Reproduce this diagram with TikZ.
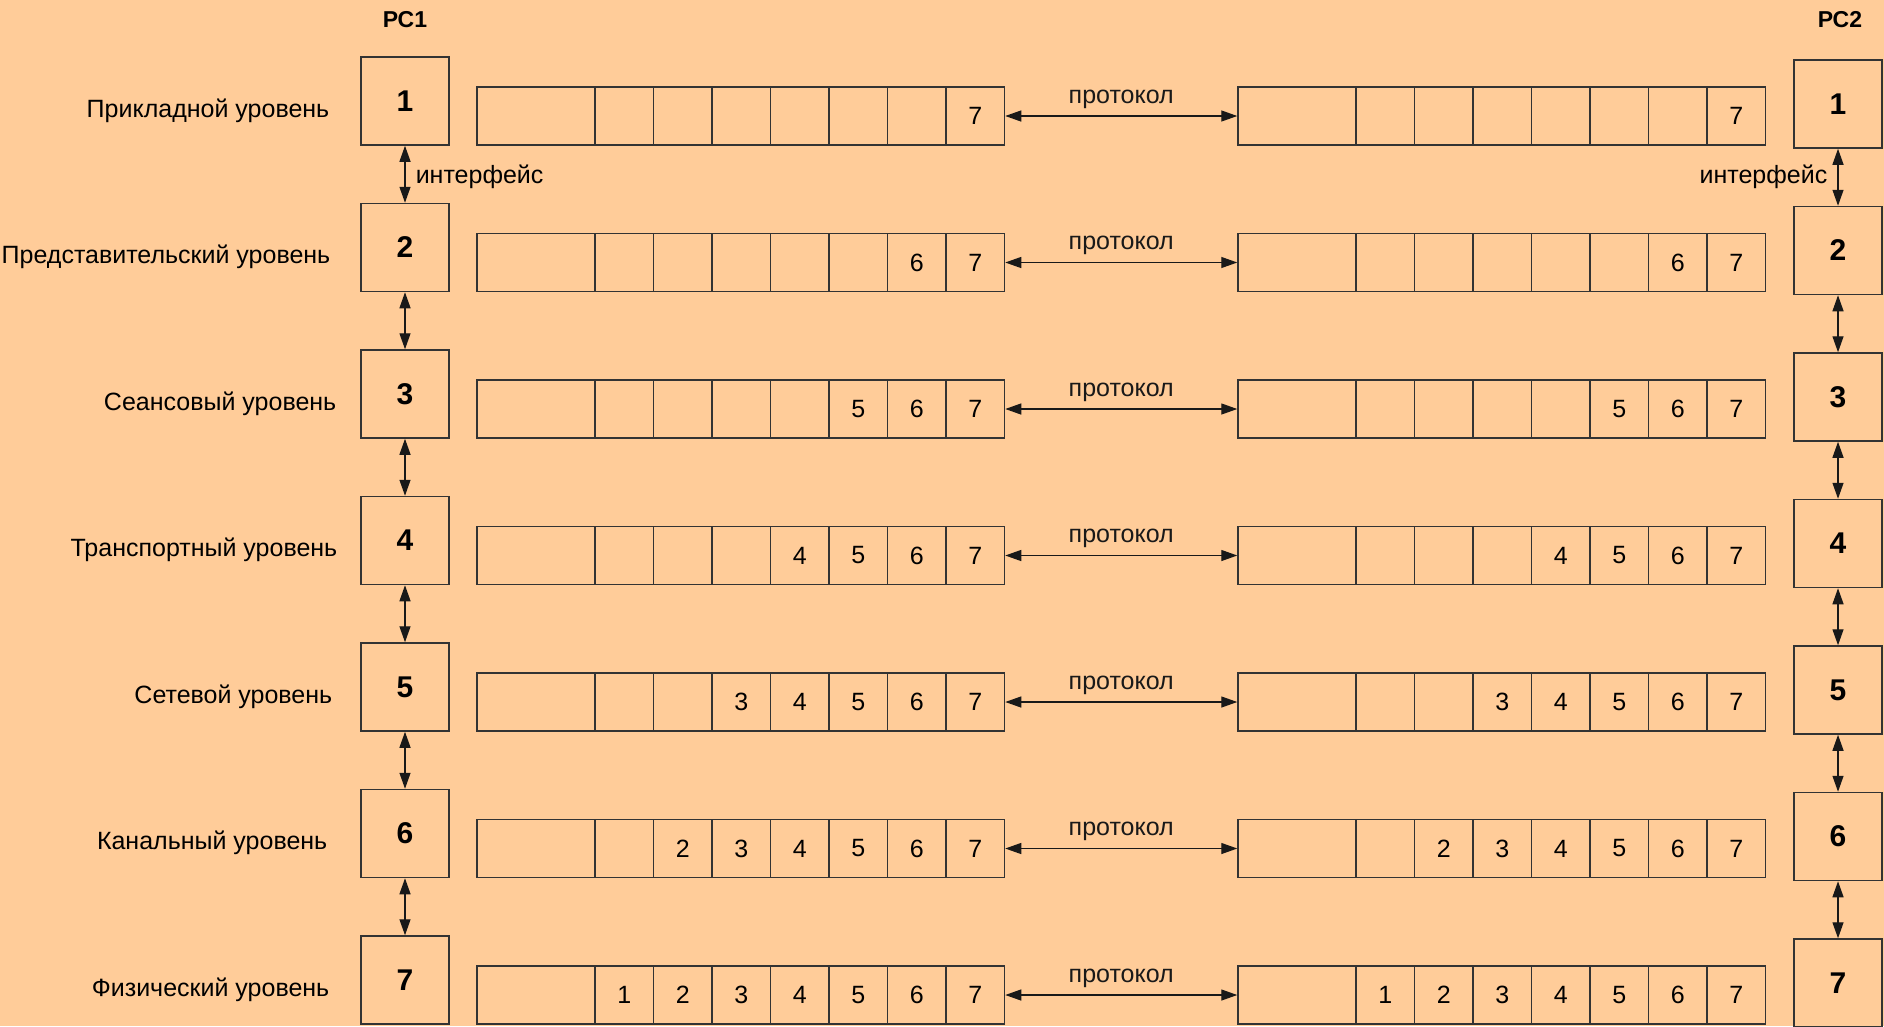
\documentclass[tikz,border=0pt]{standalone}
\usepackage{fontspec}
\setmainfont{Liberation Sans}
\usetikzlibrary{arrows.meta}
\definecolor{peach}{HTML}{FFCC99}
\begin{document}
\begin{tikzpicture}[x=1pt, y=-1pt, line width=1.5pt, >={Triangle[length=16pt, width=11pt]},
	lay/.style={draw=black!80, minimum width=88pt, minimum height=88pt, inner sep=0pt, font=\fontsize{30}{34}\selectfont\bfseries},
	cell/.style={draw=black!80, minimum width=58.5pt, minimum height=58pt, inner sep=0pt, font=\fontsize{25}{29}\selectfont},
	wide/.style={cell, minimum width=118pt},
	lab/.style={font=\fontsize{25}{30}\selectfont, inner sep=0pt},
	conn/.style={<->, black!90, line width=1.3pt}]
	\fill[peach] (0,0) rectangle (1884,1026);
	\useasboundingbox (0,0) rectangle (1884,1026);
	\node[font=\fontsize{23}{27}\selectfont\bfseries] (pc1) at (405,20) {РС1};
	\node[font=\fontsize{23}{27}\selectfont\bfseries] (pc2) at (1840,20) {РС2};
	\foreach \i/\txt/\rx in {1/Прикладной уровень/330, 2/Представительский уровень/331, 3/Сеансовый уровень/337, 4/Транспортный уровень/338, 5/Сетевой уровень/333, 6/Канальный уровень/328, 7/Физический уровень/330} {
		\pgfmathsetmacro{\yb}{101+(\i-1)*146.5}
		\pgfmathsetmacro{\ys}{116+(\i-1)*146.5}
		\node[lay] (A\i) at (405,\yb) {\i};
		\node[lay] (B\i) at (1838,\yb+3) {\i};
		\node[lab, anchor=base east] (t\i) at (\rx,\yb+16) {\txt};
		\node[wide] (L\i-0) at (536,\ys) {};
		\node[wide] (R\i-0) at (1297,\ys) {};
		\foreach \k in {1,...,7} {
			\pgfmathsetmacro{\xl}{595+(\k-0.5)*58.5}
			\pgfmathsetmacro{\xr}{1356+(\k-0.5)*58.5}
			\node[cell] (L\i-\k) at (\xl,\ys) {\ifnum\k>\numexpr7-\i\relax\k\fi};
			\node[cell] (R\i-\k) at (\xr,\ys) {\ifnum\k>\numexpr7-\i\relax\k\fi};
		}
		\draw[conn] (L\i-7.east) -- node[lab, midway, anchor=base, yshift=13pt] (p\i) {протокол} (R\i-0.west);
	}
	\foreach \i [evaluate=\i as \j using int(\i+1)] in {1,...,6} {
		\draw[conn] (A\i.south) -- (A\j.north);
		\draw[conn] (B\i.south) -- (B\j.north);
	}
	\path (A1.south) -- (A2.north) node[lab, midway, anchor=base west, xshift=10pt, yshift=-9pt] (ifl) {интерфейс};
	\path (B1.south) -- (B2.north) node[lab, midway, anchor=base east, xshift=-10pt, yshift=-6pt] (ifr) {интерфейс};
\end{tikzpicture}
\end{document}
